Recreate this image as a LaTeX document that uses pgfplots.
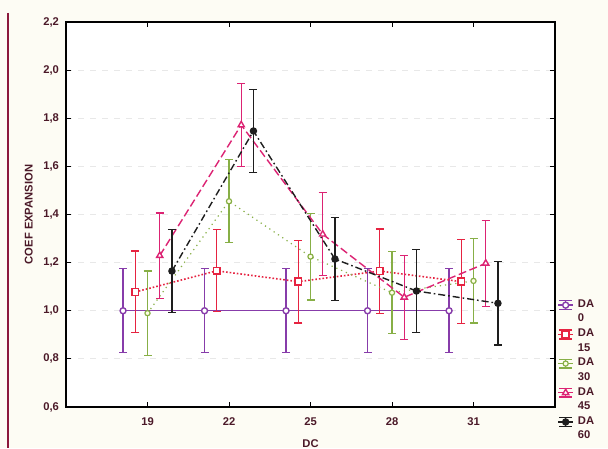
\documentclass[border=0pt]{standalone}
\usepackage{pgfplots}
\pgfplotsset{compat=1.18}
\usepackage{fontspec}
\setmainfont{Liberation Sans}

\definecolor{bgcream}{RGB}{253,252,244}
\definecolor{txt}{RGB}{75,25,40}
\definecolor{maroon}{RGB}{140,25,60}
\definecolor{cDA0}{RGB}{135,60,170}
\definecolor{cDA15}{RGB}{230,35,65}
\definecolor{cDA30}{RGB}{135,175,70}
\definecolor{cDA45}{RGB}{220,35,115}
\definecolor{cDA60}{RGB}{30,30,30}

% group means and half-widths of the confidence intervals (x shifted per group)
\pgfplotstableread{
x     y      e
18.1  1.000  0.175
21.1  1.000  0.175
24.1  1.000  0.175
27.1  1.000  0.175
30.1  1.000  0.175
}\daZero
\pgfplotstableread{
x     y      e
18.55 1.078  0.170
21.55 1.166  0.170
24.55 1.121  0.172
27.55 1.165  0.175
30.55 1.121  0.175
}\daFifteen
\pgfplotstableread{
x     y      e
19.0  0.990  0.175
22.0  1.455  0.173
25.0  1.225  0.180
28.0  1.075  0.170
31.0  1.124  0.175
}\daThirty
\pgfplotstableread{
x     y      e
19.45 1.229  0.177
22.45 1.772  0.173
25.45 1.318  0.172
28.45 1.056  0.175
31.45 1.197  0.178
}\daFortyFive
\pgfplotstableread{
x     y      e
19.9  1.165  0.172
22.9  1.747  0.173
25.9  1.215  0.172
28.9  1.082  0.174
31.9  1.031  0.173
}\daSixty

\begin{document}
\begin{tikzpicture}
\useasboundingbox (-33pt,-20.5pt) rectangle (271pt,203.5pt);
\fill[bgcream] (-33pt,-20.5pt) rectangle (271pt,203.5pt);
\draw[maroon, line width=1.3pt] (-29pt,197pt) -- (-29pt,-20.5pt);
\begin{axis}[
  scale only axis, width=244.5pt, height=192.5pt,
  xmin=16, xmax=34, ymin=0.6, ymax=2.2,
  xtick={19,22,25,28,31},
  ytick={0.6,0.8,1.0,1.2,1.4,1.6,1.8,2.0,2.2},
  yticklabel style={/pgf/number format/.cd, use comma, fixed, fixed zerofill, precision=1},
  /pgf/number format/assume math mode=true,
  tick label style={font=\fontsize{5.6}{6.5}\selectfont\bfseries, text=txt},
  xticklabel style={yshift=-2pt},
  label style={font=\fontsize{5.6}{6.5}\selectfont\bfseries, text=txt},
  xlabel={DC}, ylabel={COEF EXPANSION},
  ylabel style={yshift=-1.5pt},
  tick align=inside, major tick length=2.5pt,
  axis line style={black, line width=0.7pt},
  tick style={black, line width=0.5pt},
  ymajorgrids, grid style={dashed, gray!18, line width=0.4pt},
  axis background/.style={fill=white},
  legend style={at={(1.004,0.29)}, anchor=north west, draw=none, fill=none,
    font=\fontsize{5.6}{7.25}\selectfont\bfseries, text=txt,
    cells={anchor=west, align=left, inner sep=0.6pt, xshift=-2pt}, inner sep=0pt, row sep=-2pt,
    column sep=0pt},
  legend image code/.code={
    \begin{scope}[yshift=3.6pt]
    \draw[#1, solid, mark=none] (3.75pt,-2.2pt) -- (3.75pt,2.2pt);
    \draw[#1, solid, mark=none] (0.5pt,2.2pt) -- (7pt,2.2pt);
    \draw[#1, solid, mark=none] (0.5pt,-2.2pt) -- (7pt,-2.2pt);
    \draw[#1, solid, mark repeat=2, mark phase=2] plot coordinates {(0pt,0pt) (3.75pt,0pt) (7.5pt,0pt)};
    \end{scope}
  },
  error bars/y dir=both, error bars/y explicit,
  error bars/error mark options={rotate=90, mark size=2pt, line width=0.6pt},
  error bars/error bar style={solid, line width=0.6pt},
]
\addplot[cDA0, line width=0.7pt, mark=*, mark size=1.5pt, mark options={fill=white, solid}]
  table[x=x, y=y, y error=e] {\daZero};
\addlegendentry{DA\\0}
\addplot[cDA15, line width=0.8pt, densely dotted, mark=square*, mark size=1.7pt, mark options={fill=white, solid}]
  table[x=x, y=y, y error=e] {\daFifteen};
\addlegendentry{DA\\15}
\addplot[cDA30, line width=0.6pt, dotted, mark=*, mark size=1.3pt, mark options={fill=yellow!10!white, solid}]
  table[x=x, y=y, y error=e] {\daThirty};
\addlegendentry{DA\\30}
\addplot[cDA45, line width=0.7pt, dash pattern=on 4pt off 1.8pt, mark=triangle*, mark size=1.8pt, mark options={fill=white, solid}]
  table[x=x, y=y, y error=e] {\daFortyFive};
\addlegendentry{DA\\45}
\addplot[cDA60, line width=0.7pt, dash pattern=on 3.5pt off 1.5pt on 0.8pt off 1.5pt, mark=*, mark size=1.5pt, mark options={fill=cDA60, solid}]
  table[x=x, y=y, y error=e] {\daSixty};
\addlegendentry{DA\\60}
\end{axis}
\end{tikzpicture}
\end{document}
